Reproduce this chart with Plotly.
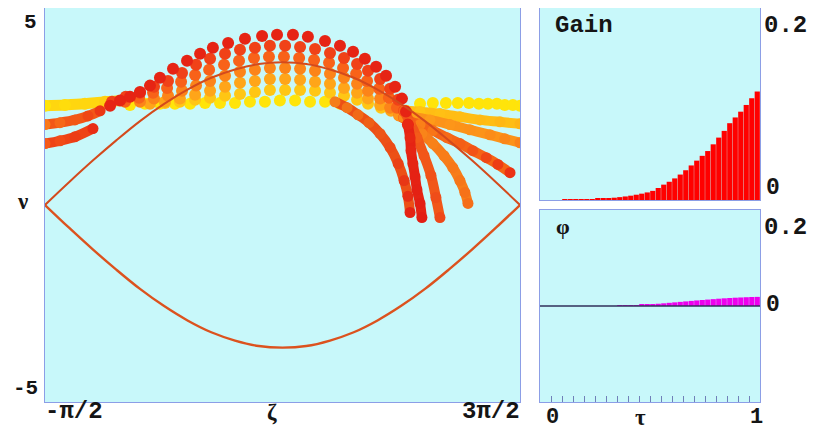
import plotly.graph_objects as go

# page has an 8px body margin; the figure is sized to fit the 816x438 window exactly
OFF = 8
W, H = 816 - OFF, 438 - OFF

# ---------------- data: left panel (zeta in units of pi, nu) ----------------
sep_zeta = [-0.5, -0.4, -0.3, -0.2, -0.1, 0.0, 0.1, 0.2, 0.3, 0.4, 0.5,
            0.6, 0.7, 0.8, 0.9, 1.0, 1.1, 1.2, 1.3, 1.4, 1.5]
sep_nu = [0.0, 0.57, 1.12, 1.64, 2.13, 2.56, 2.93, 3.23, 3.44, 3.58, 3.62,
          3.58, 3.44, 3.23, 2.93, 2.56, 2.13, 1.64, 1.12, 0.57, 0.0]

# arc rows of particles (bottom, yellow -> top, red)
l0_z = [-0.142, -0.079, -0.016, 0.047, 0.111, 0.174, 0.237, 0.300, 0.363, 0.426, 0.489, 0.553, 0.616, 0.679, 0.742]
l0_nu = [2.54, 2.57, 2.57, 2.57, 2.57, 2.59, 2.59, 2.59, 2.62, 2.62, 2.65, 2.65, 2.62, 2.62, 2.57]
l1_z = [0.005, 0.068, 0.132, 0.195, 0.258, 0.321, 0.384, 0.447, 0.511, 0.574, 0.637, 0.700, 0.759, 0.814, 0.860, 0.915, 0.965, 1.020]
l1_nu = [2.59, 2.62, 2.67, 2.72, 2.77, 2.82, 2.87, 2.92, 2.92, 2.92, 2.90, 2.85, 2.77, 2.67, 2.57, 2.47, 2.42, 2.39]
l2_z = [-0.058, 0.005, 0.068, 0.132, 0.195, 0.258, 0.321, 0.384, 0.447, 0.511, 0.574, 0.637, 0.700, 0.759, 0.814, 0.860, 0.911, 0.957, 1.003]
l2_nu = [2.57, 2.62, 2.70, 2.80, 2.90, 3.00, 3.10, 3.15, 3.20, 3.20, 3.18, 3.13, 3.08, 2.97, 2.85, 2.70, 2.54, 2.39, 2.29]
l3_z = [-0.100, -0.041, 0.018, 0.077, 0.136, 0.195, 0.258, 0.321, 0.384, 0.447, 0.511, 0.574, 0.637, 0.700, 0.759, 0.814, 0.860, 0.911, 0.953, 0.991]
l3_nu = [2.62, 2.70, 2.77, 2.90, 3.03, 3.15, 3.28, 3.38, 3.43, 3.48, 3.48, 3.46, 3.41, 3.33, 3.23, 3.08, 2.90, 2.70, 2.47, 2.27]
l4_z = [-0.163, -0.104, -0.045, 0.014, 0.073, 0.132, 0.191, 0.254, 0.317, 0.380, 0.443, 0.506, 0.570, 0.633, 0.696, 0.755, 0.810, 0.856, 0.907, 0.948, 0.982, 1.012]
l4_nu = [2.62, 2.72, 2.85, 2.97, 3.13, 3.30, 3.43, 3.56, 3.66, 3.73, 3.76, 3.76, 3.73, 3.68, 3.61, 3.48, 3.33, 3.15, 2.95, 2.72, 2.47, 2.22]
l5_z = [-0.218, -0.160, -0.100, -0.041, 0.018, 0.077, 0.136, 0.195, 0.258, 0.321, 0.384, 0.447, 0.511, 0.574, 0.637, 0.700, 0.759, 0.814, 0.860, 0.911, 0.953, 0.987, 1.012]
l5_nu = [2.62, 2.75, 2.85, 3.00, 3.15, 3.35, 3.56, 3.71, 3.84, 3.94, 3.99, 4.04, 4.04, 4.01, 3.96, 3.86, 3.73, 3.58, 3.41, 3.20, 2.95, 2.67, 2.39]
l6_z = [-0.226, -0.184, -0.142, -0.100, -0.058, -0.016, 0.039, 0.098, 0.153, 0.207, 0.271, 0.342, 0.414, 0.477, 0.544, 0.607, 0.679, 0.742, 0.797, 0.847, 0.894, 0.936, 0.974, 1.003, 1.020, 1.028]
l6_nu = [2.52, 2.65, 2.75, 2.87, 3.03, 3.23, 3.46, 3.66, 3.84, 3.99, 4.11, 4.22, 4.29, 4.32, 4.32, 4.27, 4.16, 4.04, 3.89, 3.71, 3.51, 3.28, 3.00, 2.70, 2.37, 2.04]

# continuous streaks
a_z = [-0.5, -0.416, -0.332, -0.247, -0.163]
a_nu = [2.52, 2.54, 2.57, 2.62, 2.65]
b_z = [-0.5, -0.437, -0.374, -0.319, -0.268]
b_nu = [2.04, 2.09, 2.16, 2.26, 2.39]
c_z = [-0.5, -0.437, -0.374, -0.298]
c_nu = [1.56, 1.63, 1.73, 1.94]
t1_z = [1.079, 1.133, 1.188, 1.238, 1.285, 1.327, 1.365, 1.403, 1.436, 1.470, 1.500]
t1_nu = [2.57, 2.59, 2.59, 2.59, 2.59, 2.57, 2.57, 2.57, 2.54, 2.54, 2.52]
t2_z = [1.020, 1.079, 1.163, 1.247, 1.332, 1.416, 1.500]
t2_nu = [2.39, 2.37, 2.32, 2.24, 2.16, 2.11, 2.06]
t3_z = [1.003, 1.045, 1.121, 1.205, 1.289, 1.374, 1.436, 1.500]
t3_nu = [2.29, 2.24, 2.16, 2.04, 1.91, 1.78, 1.68, 1.58]
ta_z = [0.721, 0.772, 0.818, 0.864, 0.911, 0.953, 0.987, 1.012, 1.028, 1.037]
ta_nu = [2.62, 2.47, 2.29, 2.09, 1.81, 1.46, 1.05, 0.62, 0.22, -0.19]
tb_z = [1.028, 1.037, 1.041, 1.049, 1.058, 1.066, 1.079, 1.087]
tb_nu = [2.04, 1.71, 1.38, 1.05, 0.72, 0.39, 0.04, -0.32]
tc_z = [1.012, 1.037, 1.066, 1.096, 1.125, 1.146, 1.163]
tc_nu = [2.39, 2.09, 1.71, 1.25, 0.75, 0.19, -0.32]
td_z = [1.012, 1.045, 1.087, 1.133, 1.180, 1.217, 1.247, 1.268, 1.281]
td_nu = [2.22, 2.01, 1.81, 1.56, 1.25, 0.95, 0.62, 0.32, 0.04]
te_z = [0.991, 1.028, 1.079, 1.133, 1.192, 1.247, 1.301, 1.358, 1.407, 1.458]
te_nu = [2.27, 2.14, 2.04, 1.89, 1.71, 1.56, 1.38, 1.20, 1.03, 0.82]

# ---------------- data: right panels ----------------
tau = [0.0125, 0.0375, 0.0625, 0.0875, 0.1125, 0.1375, 0.1625, 0.1875, 0.2125, 0.2375,
       0.2625, 0.2875, 0.3125, 0.3375, 0.3625, 0.3875, 0.4125, 0.4375, 0.4625, 0.4875,
       0.5125, 0.5375, 0.5625, 0.5875, 0.6125, 0.6375, 0.6625, 0.6875, 0.7125, 0.7375,
       0.7625, 0.7875, 0.8125, 0.8375, 0.8625, 0.8875, 0.9125, 0.9375, 0.9625, 0.9875]
gain = [0.0, 0.0, 0.0, 0.0, 0.0002, 0.0003, 0.0004, 0.0005, 0.0007, 0.0009,
        0.0012, 0.0015, 0.0019, 0.0024, 0.0030, 0.0037, 0.0045, 0.0055, 0.0066, 0.0079,
        0.0095, 0.0125, 0.0160, 0.0190, 0.0225, 0.0265, 0.0310, 0.0360, 0.0410, 0.0460,
        0.0510, 0.0580, 0.0650, 0.0720, 0.0800, 0.0860, 0.0920, 0.0990, 0.1060, 0.1130]
phase = [0.0, 0.0, 0.0, 0.0, 0.0, 0.0, 0.0, 0.0, 0.0, 0.0,
         0.0, 0.0, 0.0, 0.0, 0.0003, 0.0008, 0.0012, 0.0017, 0.0023, 0.0030,
         0.0038, 0.0047, 0.0056, 0.0066, 0.0076, 0.0086, 0.0096, 0.0106, 0.0116, 0.0125,
         0.0134, 0.0143, 0.0152, 0.0160, 0.0167, 0.0173, 0.0178, 0.0183, 0.0187, 0.0190]
tau_ticks = [0.0, 0.05, 0.1, 0.15, 0.2, 0.25, 0.3, 0.35, 0.4, 0.45, 0.5,
             0.55, 0.6, 0.65, 0.7, 0.75, 0.8, 0.85, 0.9, 0.95, 1.0]

# ---------------- styling helpers ----------------
BG = "#C8F8FA"
FRAME = "#8C9EE6"


def grad(c1, c2, n):
    out = []
    for i in range(n):
        t = i / (n - 1) if n > 1 else 0
        out.append("rgb(%d,%d,%d)" % tuple(round(c1[k] + (c2[k] - c1[k]) * t) for k in range(3)))
    return out


def rgb(c):
    return "rgb(%d,%d,%d)" % c


fig = go.Figure()


def dots(z, nu, col, size=12):
    fig.add_trace(go.Scatter(x=z, y=nu, mode="markers", xaxis="x", yaxis="y",
                             marker=dict(size=size, color=rgb(col), line=dict(width=0)),
                             hoverinfo="skip", showlegend=False))


def streak(z, nu, c1, c2, width=10):
    cols = grad(c1, c2, len(z))
    mid = tuple((c1[k] + c2[k]) // 2 for k in range(3))
    fig.add_trace(go.Scatter(x=z, y=nu, mode="lines+markers", xaxis="x", yaxis="y",
                             line=dict(color=rgb(mid), width=width, shape="spline"),
                             marker=dict(size=width + 1, color=cols, line=dict(width=0)),
                             hoverinfo="skip", showlegend=False))


Y0 = (255, 228, 10)
Y1 = (255, 198, 20)
O2 = (255, 165, 25)
O3 = (252, 132, 25)
O4 = (248, 98, 25)
R5 = (240, 66, 24)
R6 = (230, 36, 20)

# drawing order: early (yellow) below, late (red) above
dots(l0_z, l0_nu, Y0)
streak(a_z, a_nu, Y0, (255, 200, 20), width=11)
dots(t1_z, t1_nu, Y0)
dots(l1_z, l1_nu, Y1)
streak(t2_z, t2_nu, Y1, (255, 180, 20))
dots(l2_z, l2_nu, O2)
streak(t3_z, t3_nu, O2, (250, 130, 25))
streak(c_z, c_nu, (245, 90, 25), (232, 45, 20))
dots(l3_z, l3_nu, O3)
streak(te_z, te_nu, (255, 150, 25), (235, 50, 20))
dots(l4_z, l4_nu, O4)
streak(td_z, td_nu, (250, 140, 25), (245, 110, 25))
dots(l5_z, l5_nu, R5)
streak(tc_z, tc_nu, (245, 100, 25), (238, 72, 25))
streak(ta_z, ta_nu, (245, 125, 25), (228, 35, 20))
dots(l6_z, l6_nu, R6)
streak(b_z, b_nu, (250, 120, 25), (235, 55, 20))
streak(tb_z, tb_nu, (232, 40, 20), (226, 30, 20))

# separatrix on top
fig.add_trace(go.Scatter(x=sep_zeta, y=sep_nu, mode="lines", xaxis="x", yaxis="y",
                         line=dict(color="#D44A1C", width=2, shape="spline"),
                         hoverinfo="skip", showlegend=False))
fig.add_trace(go.Scatter(x=sep_zeta, y=[-v for v in sep_nu], mode="lines", xaxis="x", yaxis="y",
                         line=dict(color="#DC521E", width=2.4, shape="spline"),
                         hoverinfo="skip", showlegend=False))

# gain panel
fig.add_trace(go.Bar(x=tau, y=gain, xaxis="x2", yaxis="y2", marker=dict(color="#FF0000", line=dict(width=0)),
                     hoverinfo="skip", showlegend=False))
# phase panel
fig.add_trace(go.Bar(x=tau, y=phase, xaxis="x3", yaxis="y3", marker=dict(color="#EE00EE", line=dict(width=0)),
                     hoverinfo="skip", showlegend=False))


def px(x):
    return min(max((x - OFF) / W, 0.0), 1.0)


def py(y):
    return min(max(1 - (y - OFF) / H, 0.0), 1.0)


axis_common = dict(showgrid=False, zeroline=False, showline=True, mirror=True,
                   linecolor=FRAME, linewidth=1, showticklabels=False, ticks="")

fig.update_layout(
    width=W, height=H,
    margin=dict(l=0, r=0, t=0, b=0),
    paper_bgcolor="white", plot_bgcolor=BG,
    bargap=0.06,
    xaxis=dict(domain=[px(45), px(520)], range=[-0.5, 1.5], anchor="y", **axis_common),
    yaxis=dict(domain=[py(402), py(8)], range=[-5, 5], anchor="x", **axis_common),
    xaxis2=dict(domain=[px(540), px(760)], range=[0, 1], anchor="y2", **axis_common),
    yaxis2=dict(domain=[py(200), py(8)], range=[0, 0.2], anchor="x2", **axis_common),
    xaxis3=dict(domain=[px(540), px(760)], range=[0, 1], anchor="y3",
                showgrid=False, zeroline=False, showline=True, mirror=True,
                linecolor=FRAME, linewidth=1, showticklabels=False,
                ticks="inside", tickvals=tau_ticks, ticklen=6, tickcolor="#7080B8", tickwidth=1),
    yaxis3=dict(domain=[py(402), py(210)], range=[-0.2, 0.2], anchor="x3", **axis_common),
    shapes=[dict(type="line", xref="x3", yref="y3", x0=0, x1=1, y0=0, y1=0,
                 line=dict(color="#30305A", width=1.4))],
)

MONO = "Liberation Mono, Courier New, monospace"
SERIF = "Liberation Serif, DejaVu Serif, serif"


def label(text, x, y, xanchor="center", size=20, family=MONO):
    fig.add_annotation(text="<b>%s</b>" % text, x=px(x), y=py(y), xref="paper", yref="paper",
                       xanchor=xanchor, yanchor="middle", showarrow=False,
                       font=dict(family=family, size=size, color="#151515"))


label("5", 39, 23, "right", size=21)
label("ν", 22, 201, "center", size=23, family=SERIF)
label("-5", 40, 388, "right", size=21)
label("-π/2", 43, 411, "left", size=24)
label("ζ", 272, 412, "center", size=23, family=SERIF)
label("3π/2", 522, 411, "right", size=24)
label("0.2", 762, 25, "left", size=24)
label("0", 764, 188, "left", size=23)
label("0.2", 762, 227, "left", size=24)
label("0", 764, 305, "left", size=23)
label("0", 552, 417, "center", size=22)
label("τ", 640, 417, "center", size=23, family=SERIF)
label("1", 756, 417, "center", size=22)
label("Gain", 553, 25, "left", size=24)
label("φ", 563, 226, "center", size=22, family=SERIF)

fig.write_html("out.html")
